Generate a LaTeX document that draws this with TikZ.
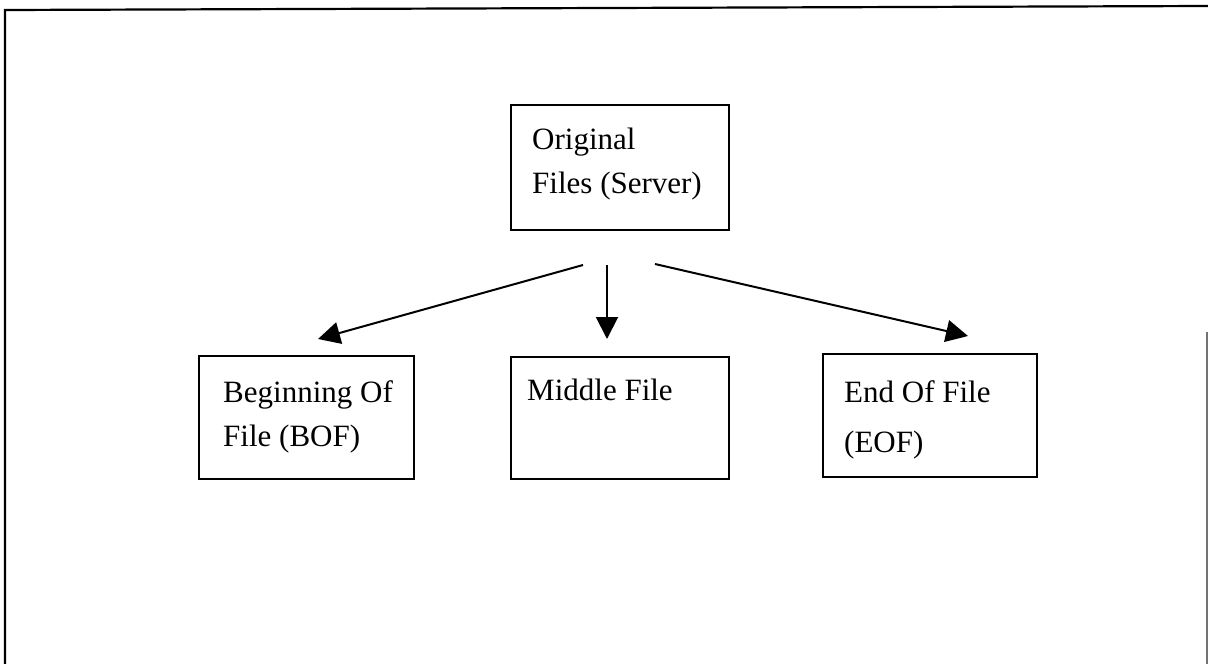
\documentclass[tikz,border=0pt]{standalone}
\usepackage{fontspec}
\setmainfont{Liberation Serif}
\usetikzlibrary{arrows.meta,calc}
\begin{document}
\begin{tikzpicture}[x=1pt,y=-1pt,
  box/.style={draw,line width=2pt,rectangle,inner sep=0pt,anchor=north west},
  boxtext/.style={anchor=north west,inner sep=0pt,align=left,
    font=\fontsize{31}{44}\selectfont},
  arr/.style={line width=2pt,-{Triangle[length=22pt,width=22pt]}}]
  % page
  \useasboundingbox (0,0) rectangle (1208,664);
  % outer frame (open at the bottom)
  \draw[line width=2.2pt] (5,664) -- (5,10) -- (1208,6);
  \draw[line width=1.5pt,black!55] (1207,332) -- (1207,664);

  % boxes
  \node[box,minimum width=218pt,minimum height=125pt] (orig) at (510,104) {};
  \node[box,minimum width=215pt,minimum height=123pt] (bof) at (198,355) {};
  \node[box,minimum width=218pt,minimum height=122pt] (mid) at (510,356) {};
  \node[box,minimum width=214pt,minimum height=123pt] (eof) at (822,353) {};

  % box texts
  \node[boxtext] (origtxt) at ($(orig.north west)+(22,24)$) {Original\\Files (Server)};
  \node[boxtext] (boftxt) at ($(bof.north west)+(25,25)$) {Beginning Of\\File (BOF)};
  \node[boxtext] (midtxt) at ($(mid.north west)+(17,23)$) {Middle File};
  \node[boxtext,font=\fontsize{31}{50}\selectfont] (eoftxt) at ($(eof.north west)+(22,27)$) {End Of File\\(EOF)};

  % connector end points
  \coordinate (o1) at ($(orig.south west)+(73,34)$);
  \coordinate (o2) at ($(orig.south west)+(97,34)$);
  \coordinate (o3) at ($(orig.south west)+(145,33)$);
  \coordinate (b1) at ($(bof.north west)+(120,-16)$);
  \coordinate (m1) at ($(mid.north west)+(97,-17)$);
  \coordinate (e1) at ($(eof.north west)+(146,-17)$);

  % connectors
  \draw[arr] (o1) -- (b1);
  \draw[arr] (o2) -- (m1);
  \draw[arr] (o3) -- (e1);
\end{tikzpicture}
\end{document}
